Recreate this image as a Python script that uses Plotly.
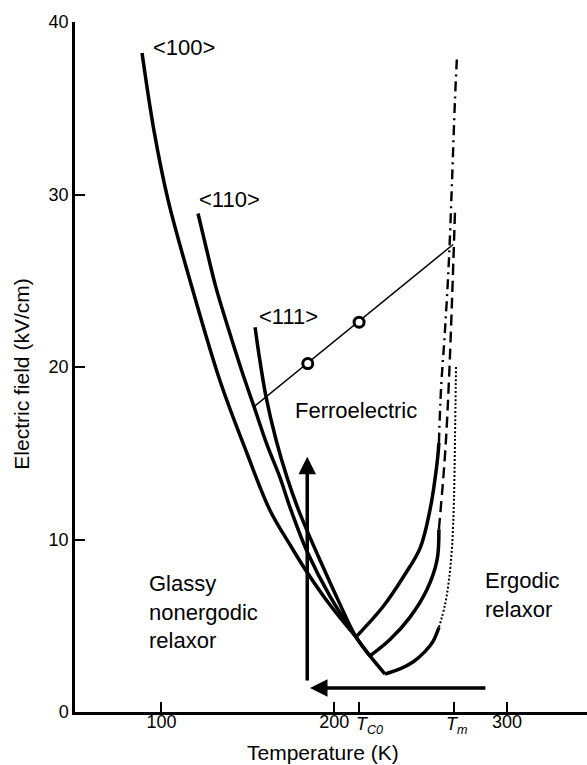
import plotly.graph_objects as go

# ---- threshold-field boundaries, temperature (K) vs electric field (kV/cm) ----
# low-temperature side of each boundary
t100_low = [88.8, 95.7, 103.8, 116.6, 133.9, 149.5, 162.8, 174.4, 184.3, 197.6, 212.6]
e100_low = [38.2, 33.7, 29.7, 25.0, 19.2, 15.0, 11.7, 9.7, 8.1, 6.2, 4.35]
t110_low = [121.2, 126.4, 131.6, 138.5, 146.1, 153.6, 161.1, 168.6, 175.0, 184.3, 197.6, 212.6, 220.7]
e110_low = [28.9, 26.7, 24.6, 22.3, 19.9, 17.7, 15.5, 13.6, 11.7, 9.3, 6.7, 4.35, 3.25]
t111_low = [154.2, 156.5, 160.5, 166.3, 172.7, 179.0, 184.8, 191.8, 202.2, 212.6, 220.7, 229.4]
e111_low = [22.3, 20.7, 18.3, 15.8, 13.6, 11.8, 10.4, 8.8, 6.5, 4.35, 3.25, 2.2]

# high-temperature side (measured)
t100_high = [212.6, 228.2, 239.8, 249.7, 255.4, 259.5, 260.6]
e100_high = [4.35, 6.1, 7.8, 9.5, 11.7, 14.4, 15.6]
t110_high = [220.7, 232.3, 243.9, 253.7, 259.5, 260.6]
e110_high = [3.25, 4.2, 5.5, 7.1, 8.8, 10.6]
t111_high = [229.4, 238.1, 245.6, 252.5, 257.2, 260.6]
e111_high = [2.2, 2.5, 2.9, 3.5, 4.1, 4.9]

# high-temperature side (extrapolated towards Tm)
t100_ext = [260.6, 261.8, 264.1, 266.4, 268.2, 269.9, 271.1]
e100_ext = [15.6, 18.7, 22.1, 26.2, 30.8, 35.5, 38.1]
t110_ext = [260.6, 263.0, 264.7, 266.4, 268.2, 269.9]
e110_ext = [10.6, 13.4, 15.8, 19.2, 23.9, 29.0]
t111_ext = [260.6, 264.1, 266.4, 268.2, 269.3, 269.9, 270.5]
e111_ext = [4.9, 6.2, 7.65, 9.6, 12.3, 15.8, 20.1]

# line through the two marked points
link_t = [153.6, 268.8]
link_e = [17.7, 27.1]
mark_t = [184.7, 214.4]
mark_e = [20.2, 22.6]

# field-heating / zero-field-cooling paths (tail, head)
field_arrow_t = [184.4, 184.4]
field_arrow_e = [1.74, 14.8]
cool_arrow_t = [288.4, 186.0]
cool_arrow_e = [1.39, 1.39]

# axis ticks: numeric ones carry tick text, the two characteristic
# temperatures get their own labels set just right of their ticks
x_tickvals = [100, 200, 214.6, 269.6, 300]
x_ticktext = ["100", "200", "", "", "300"]
temp_marks_t = [214.6, 269.6]
temp_marks_text = ["<i>T</i><sub><i>C0</i></sub>", "<i>T</i><sub><i>m</i></sub>"]
temp_marks_shift = [-5, -10]
y_tickvals = [0, 10, 20, 30, 40]

FONT = "Liberation Sans, Arial, Helvetica, sans-serif"

fig = go.Figure()


def add_line(t, e, width=3.5, dash="solid", shape="spline"):
    fig.add_trace(go.Scatter(
        x=t, y=e, mode="lines", hoverinfo="skip", showlegend=False,
        line=dict(color="black", width=width, dash=dash, shape=shape),
    ))


for t, e in [(t100_low, e100_low), (t110_low, e110_low), (t111_low, e111_low)]:
    add_line(t, e)
for t, e in [(t100_high, e100_high), (t110_high, e110_high), (t111_high, e111_high)]:
    add_line(t, e)

add_line(t100_ext, e100_ext, width=2.4, dash="10px,5px,2px,5px")
add_line(t110_ext, e110_ext, width=2.4, dash="11px,6px")
add_line(t111_ext, e111_ext, width=2.0, dash="2px,2px")

add_line(link_t, link_e, width=1.5, shape="linear")
fig.add_trace(go.Scatter(
    x=mark_t, y=mark_e, mode="markers", hoverinfo="skip", showlegend=False,
    marker=dict(symbol="circle", size=10, color="white",
                line=dict(color="black", width=3)),
))

# arrows
for at, ae in [(field_arrow_t, field_arrow_e), (cool_arrow_t, cool_arrow_e)]:
    fig.add_annotation(
        x=at[1], y=ae[1], ax=at[0], ay=ae[0],
        xref="x", yref="y", axref="x", ayref="y",
        text="", showarrow=True, arrowhead=2, arrowsize=1,
        arrowwidth=3.5, arrowcolor="black", standoff=0, startstandoff=0,
    )

# text labels
labels = [
    ("&lt;100&gt;", 94.0, 38.55),
    ("&lt;110&gt;", 120.4, 29.7),
    ("&lt;111&gt;", 155.3, 22.95),
    ("Ferroelectric", 176.2, 17.45),
    ("Glassy<br>nonergodic<br>relaxor", 91.8, 5.81),
    ("Ergodic<br>relaxor", 286.3, 6.78),
]
for txt, lx, ly in labels:
    fig.add_annotation(
        x=lx, y=ly, xref="x", yref="y", text=txt, showarrow=False,
        xanchor="left", yanchor="middle", align="left",
        font=dict(family=FONT, size=22, color="black"),
    )

# labels of the characteristic temperatures under the axis
for mt, mtxt, msh in zip(temp_marks_t, temp_marks_text, temp_marks_shift):
    fig.add_annotation(
        x=mt, y=0, xref="x", yref="paper", text=mtxt, showarrow=False,
        xanchor="left", yanchor="top", xshift=msh, yshift=0,
        font=dict(family=FONT, size=18, color="black"),
    )

# axis titles
fig.add_annotation(
    x=193.7, y=0, xref="x", yref="paper", yshift=-40,
    text="Temperature (K)", showarrow=False, xanchor="center", yanchor="middle",
    font=dict(family=FONT, size=21, color="black"),
)
fig.add_annotation(
    x=-0.104, y=0.49, xref="paper", yref="paper",
    text="Electric field (kV/cm)", showarrow=False, textangle=-90,
    xanchor="center", yanchor="middle",
    font=dict(family=FONT, size=21, color="black"),
)

axis_common = dict(
    showline=True, linecolor="black", linewidth=2.5, mirror=False,
    showgrid=False, zeroline=False,
    ticks="inside", ticklen=10, tickwidth=2, tickcolor="black",
    tickfont=dict(family=FONT, size=18, color="black"),
)

fig.update_xaxes(range=[50, 346.3], tickmode="array", tickvals=x_tickvals,
                 ticktext=x_ticktext, tickangle=0, ticklabelstandoff=-8,
                 **axis_common)
fig.update_yaxes(range=[0, 40], tickmode="array", tickvals=y_tickvals, **axis_common)

fig.update_layout(
    width=587, height=765, autosize=False,
    margin=dict(l=75, r=0, t=22, b=53, pad=0),
    plot_bgcolor="white", paper_bgcolor="white",
    font=dict(family=FONT, color="black"),
    showlegend=False,
)

fig.write_html("out.html")
